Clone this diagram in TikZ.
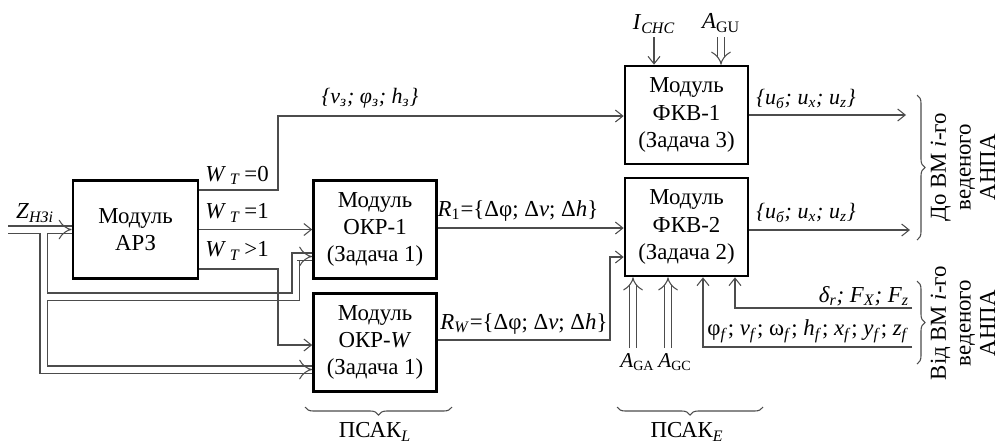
\documentclass[tikz,border=0pt]{standalone}
\usepackage{fontspec}
\setmainfont{Liberation Serif}
\usetikzlibrary{
  arrows.meta,
  calc,
  positioning,
  decorations.pathreplacing
}
\tikzset{
  >={Straight Barb[length=1.5mm,width=2.4mm]},
  modbox/.style={draw, line width=1.5pt, minimum width=24.6mm, minimum height=19.6mm,
    align=center, inner sep=0pt, font=\fontsize{13}{15.5}\selectfont},
  link/.style={->, line width=0.6pt, draw=black!70},
  dlink/.style={line width=0.6pt, draw=black!70, double=white, double distance=1.2mm},
  lbl/.style={inner sep=1pt, font=\fontsize{13}{15}\selectfont},
  setlbl/.style={inner sep=1pt, font=\fontsize{12.5}{14}\selectfont},
  albl/.style={inner sep=0pt, anchor=west, font=\fontsize{12}{14}\selectfont},
  brc/.style={decorate, decoration={brace, amplitude=1.6mm}, line width=0.6pt, draw=black!70},
  sidetext/.style={rotate=90, align=center, font=\fontsize{13}{14}\selectfont}
}
\newcommand{\sbi}[1]{\textsubscript{\textit{#1}}}

\begin{document}
\begin{tikzpicture}[x=0.2mm, y=-0.2mm]
    \useasboundingbox (0,0) rectangle (1000,446);

    % modules
    \node[modbox, minimum width=25mm] (arz) at (135.5,229.5) {Модуль\\АРЗ};
    \node[modbox] (okr1) at (375,229.5) {Модуль\\ОКР-1\\(Задача 1)};
    \node[modbox] (okrw) at (375,342.5) {Модуль\\ОКР-\textit{W}\\(Задача 1)};
    \node[modbox] (fkv1) at (686.5,115) {Модуль\\ФКВ-1\\(Задача 3)};
    \node[modbox] (fkv2) at (686.5,227) {Модуль\\ФКВ-2\\(Задача 2)};

    % Z input, one path so that the junctions stay open
    \coordinate (zin) at (8,229.5);
    \coordinate (zj) at (43.5,229.5);
    \draw[dlink] (zin) -- (arz.west)
        (zj) |- (295.5,296.5) |- (okr1.west |- 0,256.5)
        (zj) |- (okrw.west |- 0,369.5);
    \draw[dlink,-Implies] ($(arz.west)+(-15,0)$) -- (arz.west);
    \draw[dlink,-Implies] ($(okr1.west |- 0,256.5)+(-15,0)$) -- (okr1.west |- 0,256.5);
    \draw[dlink,-Implies] ($(okrw.west |- 0,369.5)+(-15,0)$) -- (okrw.west |- 0,369.5);
    \node[lbl] (zlab) at (35,213) {\textit{Z}\sbi{НЗi}};

    % outputs of АРЗ
    \draw[link] (arz.east |- 0,190) -| (278,116) -- (fkv1.west |- 0,116);
    \node[lbl] (wt0) at (237,175) {\textit{W}\,\sbi{T}\,=0};
    \node[setlbl] (vset) at (370,98) {\textit{\{v\textsubscript{з}; φ\textsubscript{з}; h\textsubscript{з}\}}};
    \draw[link] (arz.east) -- (okr1.west);
    \node[lbl] (wt1) at (237,213) {\textit{W}\,\sbi{T}\,=1};
    \draw[link] (arz.east |- 0,269) -| (278,345) -- (okrw.west |- 0,345);
    \node[lbl] (wt2) at (237,251) {\textit{W}\,\sbi{T}\,>1};

    % ОКР -> ФКВ-2
    \draw[link] (okr1.east |- 0,228) -- (fkv2.west |- 0,228);
    \node[lbl] (r1) at (518,211) {\textit{R}\textsubscript{1}=\{Δφ; Δ\textit{v}; Δ\textit{h}\}};
    \draw[link] (okrw.east |- 0,340) -| (610,257) -- (fkv2.west |- 0,257);
    \node[lbl] (rw) at (524,324) {\textit{R}\sbi{W}=\{Δφ; Δ\textit{v}; Δ\textit{h}\}};

    % top inputs of ФКВ-1
    \node[lbl] (ichc) at (654,24) {\textit{I}\sbi{CHC}};
    \node[lbl] (agu) at (721,23) {\textit{A}\textsubscript{GU}};
    \draw[link] (ichc.south |- 0,37) -- (ichc.south |- fkv1.north);
    \draw[dlink,-Implies] (agu.south |- 0,37) -- (agu.south |- fkv1.north);

    % outputs of ФКВ
    \coordinate (out1) at (906,115);
    \coordinate (out2) at (910,230);
    \draw[link] (fkv1.east) -- (out1);
    \node[setlbl] (u1) at (806,99) {\textit{\{u\textsubscript{б}; u\textsubscript{x}; u\textsubscript{z}\}}};
    \draw[link] (fkv2.east |- out2) -- (out2);
    \node[setlbl] (u2) at (806,213) {\textit{\{u\textsubscript{б}; u\textsubscript{x}; u\textsubscript{z}\}}};

    % bottom inputs of ФКВ-2
    \coordinate (ga) at (633,348);
    \coordinate (gc) at (668,348);
    \draw[dlink,-Implies] (ga) -- (ga |- fkv2.south);
    \draw[dlink,-Implies] (gc) -- (gc |- fkv2.south);
    \node[albl] (aga) at (620,362) {\textit{A}\textsubscript{GA}};
    \node[albl] (agc) at (658,362) {\textit{A}\textsubscript{GC}};

    % feedback from the vehicle
    \coordinate (dr) at (912,308);
    \coordinate (ph) at (912,347);
    \draw[link] (dr) -| (fkv2.south -| 735,0);
    \draw[link] (ph) -| (fkv2.south -| 703,0);
    \node[lbl, anchor=east] (dlt) at (911,296) {\textit{δ\textsubscript{r}; F\textsubscript{X}; F\textsubscript{z}}};
    \node[lbl, anchor=east] (phi) at (911,331) {φ\sbi{f}; \textit{v}\sbi{f}; ω\sbi{f}; \textit{h}\sbi{f}; \textit{x}\sbi{f}; \textit{y}\sbi{f}; \textit{z}\sbi{f}};

    % braces
    \draw[brc] (917,95) -- (917,240);
    \draw[brc] (917,281) -- (917,364);
    \draw[brc] (452,407) -- (305,407);
    \draw[brc] (763,407) -- (617,407);
    \node[lbl] (psl) at (375,432) {ПСАК\sbi{L}};
    \node[lbl] (pse) at (687,432) {ПСАК\sbi{E}};
    \node[sidetext] (tovm) at (963,167) {До ВМ \textit{i}-го\\веденого\\АНПА};
    \node[sidetext] (fromvm) at (963,323) {Від ВМ \textit{i}-го\\веденого\\АНПА};
\end{tikzpicture}
\end{document}
